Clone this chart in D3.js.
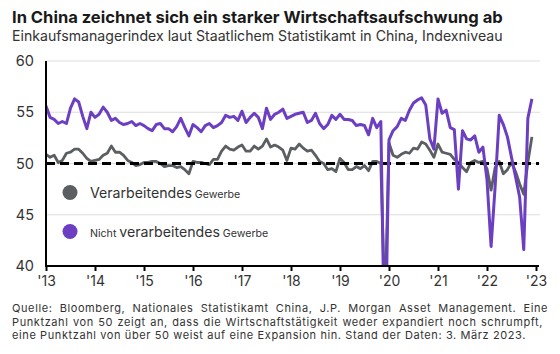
<!DOCTYPE html>
<html><head><meta charset="utf-8">
<script src="https://cdn.jsdelivr.net/npm/d3@7"></script>
<style>
body{margin:0;background:#fff}
svg{display:block}
text{font-family:Inter,"Noto Sans",sans-serif}
</style>
</head><body>
<svg id="c" width="560" height="354"></svg>
<script>
// Monthly NBS PMI values, March 2013 .. February 2023
const firstMonth = "2013-03";
const manufacturing = [
 50.9,50.6,50.8,50.1,50.3,51.0,51.1,51.4,51.4,51.0,
 50.5,50.2,50.3,50.4,50.8,51.0,51.7,51.1,51.1,50.8,50.3,50.1,
 49.8,49.9,50.1,50.1,50.2,50.2,50.0,49.7,49.8,49.8,49.6,49.7,
 49.4,49.0,50.2,50.1,50.1,50.0,49.9,50.4,50.4,51.2,51.7,51.4,
 51.3,51.6,51.8,51.2,51.2,51.7,51.4,51.7,52.4,51.6,51.8,51.6,
 51.3,50.3,51.5,51.4,51.9,51.5,51.2,51.3,50.8,50.2,50.0,49.4,
 49.5,49.2,50.5,50.1,49.4,49.4,49.7,49.5,49.8,49.3,50.2,50.2,
 50.0,35.7,52.0,50.8,50.6,50.9,51.1,51.0,51.5,51.4,52.1,51.9,
 51.3,50.6,51.9,51.1,51.0,50.9,50.4,50.1,49.6,49.2,50.1,50.3,
 50.1,50.2,49.5,47.4,49.6,50.2,49.0,49.4,50.1,49.2,48.0,47.0,
 50.1,52.6
];
const nonManufacturing = [
 55.6,54.5,54.3,53.9,54.1,53.9,55.4,56.3,56.0,54.6,
 53.4,55.0,54.5,54.8,55.5,55.0,54.2,54.4,54.0,53.8,53.9,54.1,
 53.7,53.9,53.7,53.4,53.2,53.8,53.9,53.4,53.4,53.1,53.6,54.4,
 53.5,52.7,53.8,53.5,53.1,53.7,53.9,53.5,53.7,54.0,54.7,54.5,
 54.6,54.2,55.1,54.0,54.5,54.9,54.5,53.4,55.4,54.3,54.8,55.0,
 55.3,54.4,54.6,54.8,54.9,55.0,54.0,54.2,54.9,53.9,53.4,53.8,
 54.7,54.3,54.8,54.3,54.3,54.2,53.7,53.8,53.7,52.8,54.4,53.5,
 54.1,29.6,52.3,53.2,53.6,54.4,54.2,55.2,55.9,56.2,56.4,55.7,
 52.4,51.4,56.3,54.9,55.2,53.5,53.3,47.5,53.2,52.4,52.3,52.7,
 51.1,51.6,48.4,41.9,47.8,54.7,53.8,52.6,50.6,48.7,46.7,41.6,
 54.4,56.3
];
const xTickLabels = ["'13","'14","'15","'16","'17","'18","'19","'20","'21","'22","'23"];
const yTicks = [40,45,50,55,60];
const threshold = 50;
const seriesNames = ["Verarbeitendes","Nicht verarbeitendes"];
const title = "In China zeichnet sich ein starker Wirtschaftsaufschwung ab";
const subtitle = "Einkaufsmanagerindex laut Staatlichem Statistikamt in China, Indexniveau";
const footer = [
 "Quelle: Bloomberg, Nationales Statistikamt China, J.P. Morgan Asset Management. Eine",
 "Punktzahl von 50 zeigt an, dass die Wirtschaftstätigkeit weder expandiert noch schrumpft,",
 "eine Punktzahl von über 50 weist auf eine Expansion hin. Stand der Daten: 3. März 2023."
];

const GRAY = "#5b5f61", PURPLE = "#6c3fc2";
const svg = d3.select("#c");
const M = {l:46, r:536, t:61, b:266};
const monthsPerTick = 12;
const x = d3.scaleLinear().domain([0, (xTickLabels.length-1)*monthsPerTick]).range([M.l, M.r]);
const y = d3.scaleLinear().domain([yTicks[0], yTicks[yTicks.length-1]]).range([M.b, M.t]);

function fit(sel, w){
  const n = sel.node(); const fs = parseFloat(sel.attr("font-size"));
  const cur = n.getComputedTextLength();
  sel.attr("font-size", (fs*w/cur).toFixed(2));
  return fs*w/cur;
}

// title
fit(svg.append("text").attr("x",12).attr("y",23).attr("font-size",16).attr("font-weight",700)
  .attr("fill","#1a1a1a").text(title), 491);
fit(svg.append("text").attr("x",12).attr("y",40.5).attr("font-size",13)
  .attr("fill","#333").text(subtitle), 491);

// gridlines
svg.append("g").selectAll("line").data(yTicks.filter(v=>v!==yTicks[0]))
  .join("line").attr("x1",x.range()[0]).attr("x2",x.range()[1]+4)
  .attr("y1",d=>y(d)).attr("y2",d=>y(d)).attr("stroke","#dddddd").attr("stroke-width",1);

// clip
svg.append("clipPath").attr("id","plot").append("rect")
  .attr("x",M.l).attr("y",M.t-5).attr("width",M.r-M.l+10).attr("height",M.b-M.t+5);

const line = d3.line().x((d,i)=>x(i)).y(d=>y(d));
const g = svg.append("g").attr("clip-path","url(#plot)");
g.append("path").datum(manufacturing).attr("d",line).attr("fill","none")
  .attr("stroke",GRAY).attr("stroke-width",2.8).attr("stroke-linejoin","round");
g.append("line").attr("x1",x.range()[0]).attr("x2",x.range()[1]+3)
  .attr("y1",y(threshold)).attr("y2",y(threshold))
  .attr("stroke","#000").attr("stroke-width",3).attr("stroke-dasharray","9,5");
g.append("path").datum(nonManufacturing).attr("d",line).attr("fill","none")
  .attr("stroke",PURPLE).attr("stroke-width",3).attr("stroke-linejoin","round");

// axes
const xAxis = d3.axisBottom(x)
  .tickValues(xTickLabels.map((d,i)=>i*monthsPerTick))
  .tickFormat((d,i)=>xTickLabels[i]).tickSize(5).tickPadding(5);
const gx = svg.append("g").attr("transform",`translate(0,${M.b})`).call(xAxis);
gx.select(".domain").remove();
gx.selectAll(".tick line").attr("stroke","#000").attr("stroke-width",2);
gx.selectAll(".tick text").attr("font-size",14).attr("fill","#333").attr("font-family",null);
svg.append("line").attr("x1",M.l-1).attr("x2",x.range()[1]+3).attr("y1",M.b).attr("y2",M.b)
  .attr("stroke","#000").attr("stroke-width",2);

const yAxis = d3.axisLeft(y).tickValues(yTicks).tickSize(0).tickPadding(12);
const gy = svg.append("g").attr("transform",`translate(${M.l},0)`).call(yAxis);
gy.select(".domain").remove();
gy.selectAll(".tick text").attr("font-size",14.5).attr("fill","#333").attr("font-family",null);
svg.append("line").attr("x1",M.l).attr("x2",M.l).attr("y1",M.t).attr("y2",M.b+1)
  .attr("stroke","#000").attr("stroke-width",2);

// legend
const leg = svg.append("g");
leg.append("circle").attr("cx",70).attr("cy",192.5).attr("r",7.5).attr("fill",GRAY);
leg.append("circle").attr("cx",70).attr("cy",231.5).attr("r",7.5).attr("fill",PURPLE);
const t1 = leg.append("text").attr("x",90).attr("y",198).attr("fill","#333").attr("font-size",14);
const s1 = t1.append("tspan").text(seriesNames[0]);
t1.append("tspan").attr("font-size",10.5).text(" Gewerbe");
const t2 = leg.append("text").attr("x",90).attr("y",236.5).attr("fill","#333").attr("font-size",14);
t2.append("tspan").attr("font-size",10.5).text(seriesNames[1].split(" ")[0]+" ");
t2.append("tspan").text(seriesNames[1].split(" ")[1]);
t2.append("tspan").attr("font-size",10.5).text(" Gewerbe");
const w1 = s1.node().getComputedTextLength();
const k = 102/w1;
t1.attr("font-size",14*k); t1.selectAll("tspan").filter((d,i)=>i===1).attr("font-size",10.5*k);
t2.attr("font-size",14*k); t2.selectAll("tspan").filter((d,i)=>i!==1).attr("font-size",10.5*k);

// footer: one multi-line text block, slightly letter-spaced to reach the reference widths
const FS = 11, PITCH = 13.4;
const ft = svg.append("text").attr("x",12).attr("y",312.2).attr("font-size",FS).attr("fill","#333");
const fl = footer.map((s,i)=>ft.append("tspan").attr("x",12).attr("dy",i===0?0:PITCH).text(s));
const L3 = fl[2].node().getComputedTextLength();
const ls = (514 - L3)/footer[2].length;
ft.attr("letter-spacing", ls.toFixed(3));
[[0,536],[1,531]].forEach(([i,w])=>{
  const cur = fl[i].node().getComputedTextLength();
  const spaces = footer[i].split(" ").length-1;
  fl[i].attr("word-spacing", Math.max(0,(w-cur)/spaces).toFixed(2));
});
</script>
</body></html>
